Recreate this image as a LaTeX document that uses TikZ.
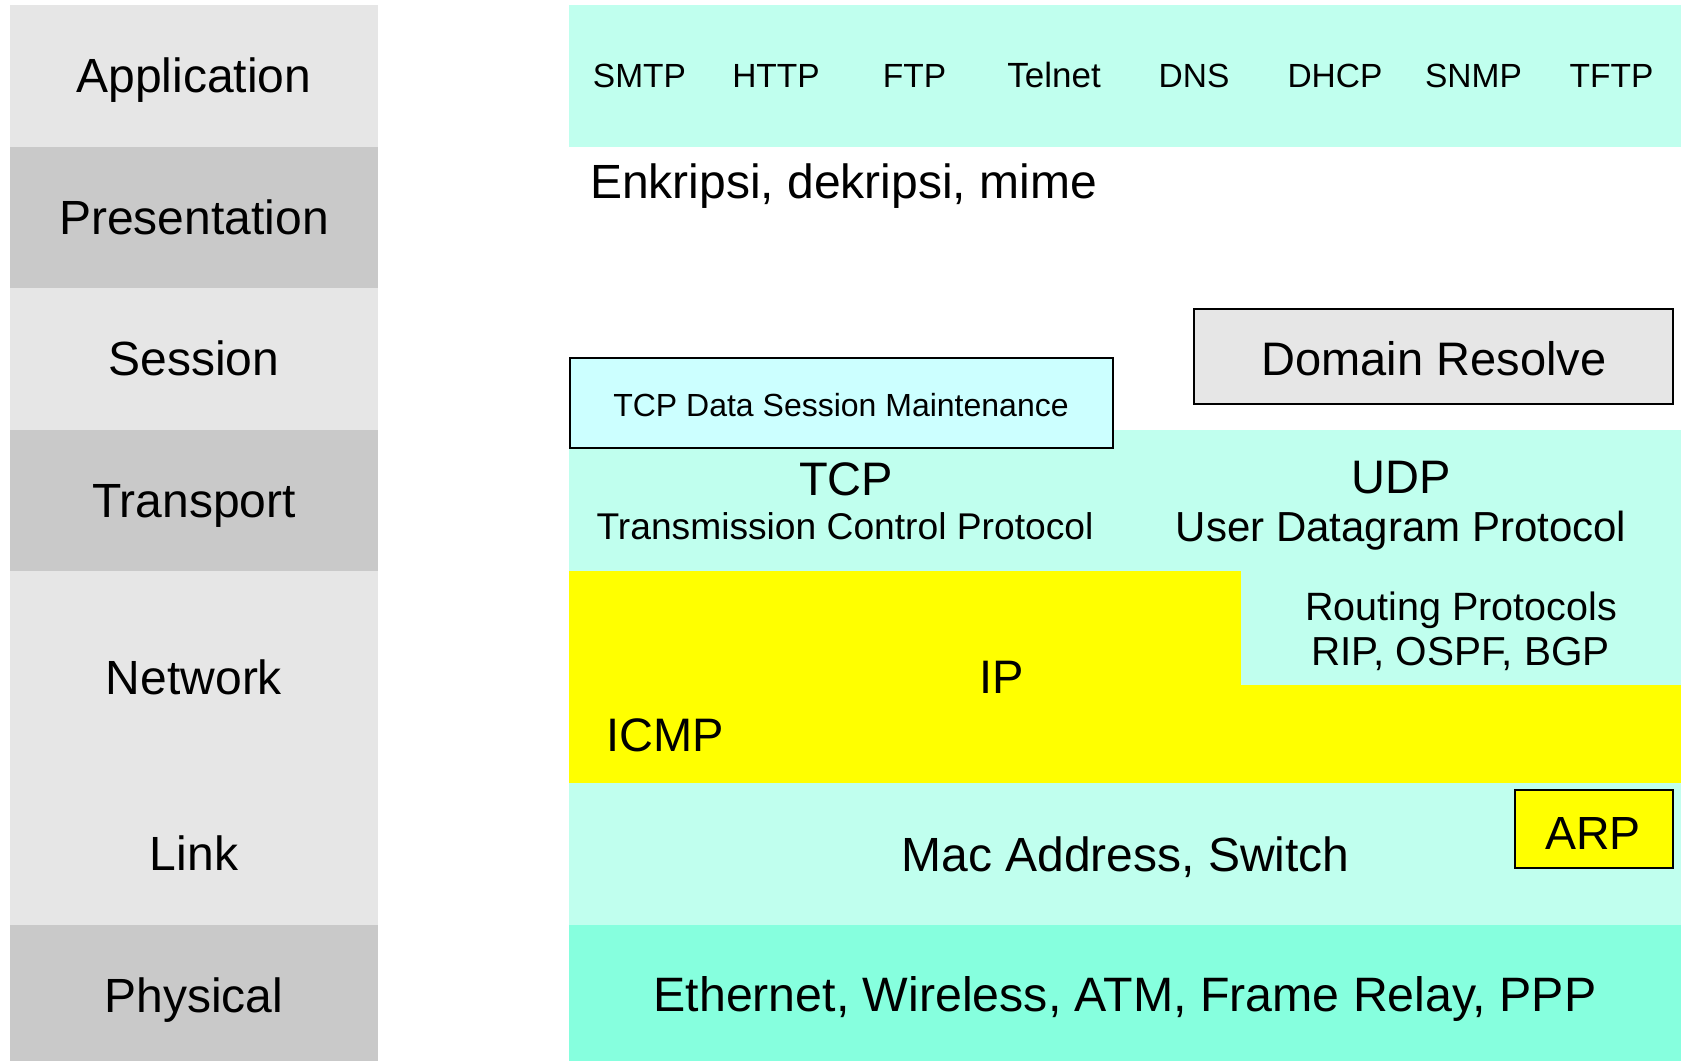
\documentclass[tikz,border=0pt]{standalone}
\usepackage{fontspec}
\setmainfont{Liberation Sans}
\definecolor{layerlight}{HTML}{E6E6E6}
\definecolor{layerdark}{HTML}{C9C9C9}
\definecolor{mint}{HTML}{C0FFEE}
\definecolor{aqua}{HTML}{86FFDE}
\definecolor{paleblue}{HTML}{CCFFFF}
\definecolor{ipyellow}{HTML}{FFFF00}
\newcommand\fsz[1]{\fontsize{#1}{#1}\selectfont}

\begin{document}
\begin{tikzpicture}[x=1pt,y=-1pt,
  txt/.style={anchor=base, inner sep=0pt, outer sep=0pt},
  layertxt/.style={txt, font=\fsz{48}},
  bigtxt/.style={txt, font=\fsz{47}},
  midtxt/.style={txt, font=\fsz{38}},
  smalltxt/.style={txt, font=\fsz{33.5}},
  framed/.style={draw=black, line width=2pt, inner sep=0pt, outer sep=0pt}]
\useasboundingbox (0,0) rectangle (1681,1061);
\fill[white] (0,0) rectangle (1681,1061);

% layer name column
\fill[layerlight] (10,5)     rectangle (378,147);
\fill[layerdark]  (10,147)   rectangle (378,288);
\fill[layerlight] (10,288)   rectangle (378,430);
\fill[layerdark]  (10,430)   rectangle (378,571);
\fill[layerlight] (10,571)   rectangle (378,925);
\fill[layerdark]  (10,925)   rectangle (378,1061);

\node[layertxt] (lapp)  at (194,92)   {Application};
\node[layertxt] (lpres) at (194,234)  {Presentation};
\node[layertxt] (lsess) at (194,375)  {Session};
\node[layertxt] (ltran) at (194,517)  {Transport};
\node[layertxt] (lnet)  at (194,694)  {Network};
\node[layertxt] (llink) at (194,870)  {Link};
\node[layertxt] (lphys) at (194,1012) {Physical};

% protocol bands
\fill[mint]     (569,5)    rectangle (1681,147);
\fill[mint]     (569,430)  rectangle (1681,571);
\fill[ipyellow] (569,571)  rectangle (1681,783);
\fill[mint]     (1241,571) rectangle (1681,685);
\fill[mint]     (569,783)  rectangle (1681,925);
\fill[aqua]     (569,925)  rectangle (1681,1061);

% application protocols
\node[smalltxt] (smtp)   at (639.5,87)  {SMTP};
\node[smalltxt] (http)   at (776,87)    {HTTP};
\node[smalltxt] (ftp)    at (914.5,87)  {FTP};
\node[smalltxt, font=\fsz{35}] (telnet) at (1054,87) {Telnet};
\node[smalltxt] (dns)    at (1194,87)   {DNS};
\node[smalltxt] (dhcp)   at (1335,87)   {DHCP};
\node[smalltxt] (snmp)   at (1473.5,87) {SNMP};
\node[smalltxt] (tftp)   at (1611.5,87) {TFTP};

% presentation
\node[bigtxt, font=\fsz{48}, anchor=base west] (enc) at (590,198) {Enkripsi, dekripsi, mime};

% session boxes
\node[framed, fill=paleblue, minimum width=543pt, minimum height=90pt] (tcpbox) at (841.5,403) {};
\node[smalltxt, font=\fsz{32}] (tcpsess) at (841,416) {TCP Data Session Maintenance};
\node[framed, fill=layerlight, minimum width=479pt, minimum height=95pt] (dnsbox) at (1433.5,356.5) {};
\node[bigtxt] (domres) at (1434,375) {Domain Resolve};

% transport
\node[bigtxt] (tcp)  at (846,495)  {TCP};
\node[midtxt, font=\fsz{37.2}] (tcpl) at (845,539) {Transmission Control Protocol};
\node[bigtxt] (udp)  at (1401,493) {UDP};
\node[midtxt, font=\fsz{42}] (udpl) at (1401,541) {User Datagram Protocol};

% network
\node[midtxt, font=\fsz{39.5}] (rout) at (1461,620) {Routing Protocols};
\node[midtxt, font=\fsz{40.5}] (rip)  at (1460.5,665) {RIP, OSPF, BGP};
\node[bigtxt] (ip)   at (1002,693)  {IP};
\node[bigtxt] (icmp) at (665.5,751) {ICMP};

% link
\node[bigtxt, font=\fsz{48}] (mac) at (1125.5,871) {Mac Address, Switch};
\node[framed, fill=ipyellow, minimum width=158pt, minimum height=78pt] (arpbox) at (1594,829) {};
\node[bigtxt, font=\fsz{46.5}] (arp) at (1593,849) {ARP};

% physical
\node[layertxt, font=\fsz{48.3}] (phys) at (1125,1011) {Ethernet, Wireless, ATM, Frame Relay, PPP};
\end{tikzpicture}
\end{document}
